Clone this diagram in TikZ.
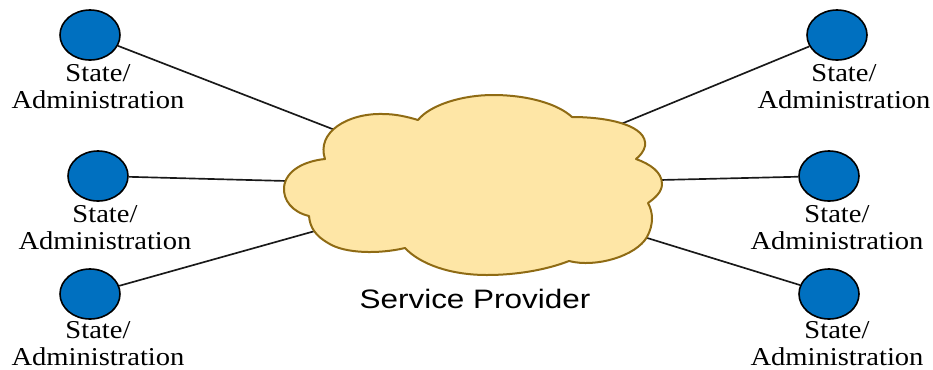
\documentclass[tikz,border=0pt]{standalone}
\usepackage{fontspec}
\setmainfont{Liberation Serif}
\newfontfamily\provfont{Liberation Sans}
\definecolor{sblue}{HTML}{0070C0}
\definecolor{cloudfill}{HTML}{FEE6A6}
\definecolor{cloudline}{HTML}{8F6B14}
\tikzset{
  site/.style={draw=black,fill=sblue,ellipse,line width=1.2pt,minimum width=60*0.75pt,minimum height=50*0.75pt,inner sep=0pt},
  sitelabel/.style={align=center,xscale=1.11,inner sep=0pt,text=black,font=\fontsize{19.3}{20.25}\selectfont},
  link/.style={draw=black!90,line width=1.25pt},
  cloudshape/.style={draw=cloudline,fill=cloudfill,line width=1.5pt,line join=round}
}
\usetikzlibrary{shapes.geometric}
\begin{document}
\begin{tikzpicture}[x=0.75pt,y=-0.75pt]
\useasboundingbox (0,0) rectangle (933,369);
\node[site] (a1) at (90,35) {};
\node[site] (a2) at (98,176) {};
\node[site] (a3) at (90,294) {};
\node[site] (b1) at (837,35) {};
\node[site] (b2) at (829,176) {};
\node[site] (b3) at (829,294) {};
\coordinate (ca1) at (335,130);
\coordinate (ca2) at (287,181);
\coordinate (ca3) at (315,231);
\coordinate (cb1) at (621,124);
\coordinate (cb2) at (660,180);
\coordinate (cb3) at (644,237);
\draw[link] (a1) -- (ca1);
\draw[link] (a2) -- (ca2);
\draw[link] (a3) -- (ca3);
\draw[link] (b1) -- (cb1);
\draw[link] (b2) -- (cb2);
\draw[link] (b3) -- (cb3);
\path[cloudshape] (325,159)
  .. controls (316,132) and (348,113) .. (383,114)
  .. controls (396,114) and (408,117) .. (418,120)
  .. controls (430,105) and (462,95) .. (493,95)
  .. controls (528,95) and (558,104) .. (572,117)
  .. controls (610,117) and (648,126) .. (645,146)
  .. controls (644,151) and (640,156) .. (636,159)
  .. controls (650,164) and (662,172) .. (662,184)
  .. controls (662,192) and (655,198) .. (648,203)
  .. controls (653,212) and (654,224) .. (647,237)
  .. controls (636,256) and (596,268) .. (569,261)
  .. controls (546,270) and (516,275) .. (487,275)
  .. controls (450,275) and (420,264) .. (405,248)
  .. controls (380,254) and (345,254) .. (328,243)
  .. controls (316,236) and (310,228) .. (309,216)
  .. controls (292,212) and (283,200) .. (284,187)
  .. controls (286,170) and (305,161) .. (325,159)
  -- cycle;
\node[sitelabel] (la1) at (98,87) {State/\\Administration};
\node[sitelabel] (la2) at (105,228) {State/\\Administration};
\node[sitelabel] (la3) at (98,343.5) {State/\\Administration};
\node[sitelabel] (lb1) at (844,87) {State/\\Administration};
\node[sitelabel] (lb2) at (837,228) {State/\\Administration};
\node[sitelabel] (lb3) at (837,343.5) {State/\\Administration};
\node[inner sep=0pt,xscale=1.18,font=\provfont\fontsize{20}{24}\selectfont] (sp) at (475,299) {Service Provider};
\end{tikzpicture}
\end{document}
